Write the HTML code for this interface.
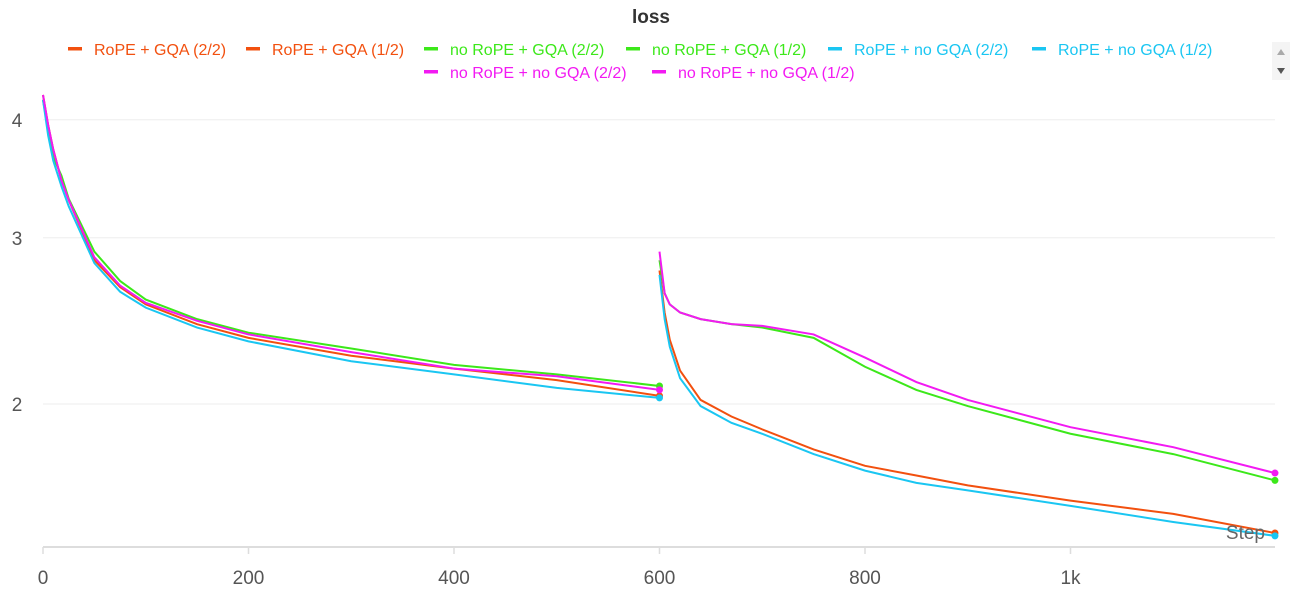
<!DOCTYPE html>
<html><head><meta charset="utf-8"><style>
body{margin:0;background:#fff;font-family:"Liberation Sans",sans-serif;}
svg text{font-family:"Liberation Sans",sans-serif;}
</style></head><body>
<svg id="chart" width="1297" height="597" xmlns="http://www.w3.org/2000/svg">
<text x="651" y="23" text-anchor="middle" font-size="19" font-weight="bold" fill="#333">loss</text>
<g id="legend"></g>
<g>
<rect x="1272" y="42" width="18" height="38" fill="#f4f4f4"/>
<path d="M1277 55 L1281 49 L1285 55 Z" fill="#aaa"/>
<path d="M1277 68 L1281 74 L1285 68 Z" fill="#555"/>
</g>
<g id="grid"></g><g id="axes"></g><g id="series"></g>
<text x="1265" y="539" text-anchor="end" font-size="19" fill="#666">Step</text>
</svg>
<script>
const xTicks=[0,200,400,600,800,1000];
const xTickLabels=["0","200","400","600","800","1k"];
const yTicks=[2,3,4];
const stepsA=[0,5,10,18,25,50,75,100,150,200,300,400,500,600];
const ropeGqaA=[4.25,3.95,3.72,3.45,3.29,2.84,2.66,2.55,2.43,2.35,2.25,2.18,2.12,2.04];
const noropeGqaA=[4.2,3.9,3.65,3.49,3.3,2.9,2.7,2.58,2.46,2.38,2.29,2.2,2.15,2.09];
const ropeNogqaA=[4.2,3.85,3.62,3.4,3.24,2.82,2.63,2.53,2.41,2.33,2.22,2.15,2.08,2.03];
const noropeNogqaA=[4.25,3.95,3.72,3.45,3.29,2.86,2.67,2.56,2.45,2.37,2.27,2.18,2.14,2.07];
const stepsB=[600,605,610,620,640,670,700,750,800,850,900,1000,1100,1199];
const ropeGqaB=[2.77,2.5,2.34,2.17,2.02,1.94,1.88,1.79,1.72,1.68,1.64,1.58,1.53,1.46];
const ropeNogqaB=[2.74,2.46,2.3,2.13,1.99,1.91,1.86,1.77,1.7,1.65,1.62,1.56,1.5,1.45];
const noropeGqaB=[2.84,2.62,2.55,2.5,2.46,2.43,2.41,2.35,2.19,2.07,1.99,1.86,1.77,1.66];
const noropeNogqaB=[2.9,2.62,2.55,2.5,2.46,2.43,2.42,2.37,2.24,2.11,2.02,1.89,1.8,1.69];
const NS="http://www.w3.org/2000/svg";
const X=s=>43+s*1.0275;
const Y=v=>404-410*(Math.log(v)-Math.log(2));
function mk(t,a,p){const e=document.createElementNS(NS,t);for(const k in a)e.setAttribute(k,a[k]);p.appendChild(e);return e;}
const grid=document.getElementById('grid'),axes=document.getElementById('axes'),ser=document.getElementById('series'),leg=document.getElementById('legend');
yTicks.forEach(v=>{const l=mk('line',{x1:43,x2:1275,y1:Y(v),y2:Y(v),stroke:'#eee'},grid);

const t=mk('text',{x:17,y:Y(v)+7,'text-anchor':'middle','font-size':19,fill:'#555'},axes);t.textContent=v;
});
const ax=mk('line',{x1:43,x2:1275,y1:547,y2:547,stroke:'#ddd','stroke-width':2},axes);

xTicks.forEach((s,i)=>{mk('line',{x1:X(s),x2:X(s),y1:547,y2:554,stroke:'#ddd','stroke-width':1.5},axes);
const t=mk('text',{x:X(s),y:584,'text-anchor':'middle','font-size':19,fill:'#555'},axes);t.textContent=xTickLabels[i];
});
const series=[
["RoPE + GQA (2/2)","#f2500f",stepsB,ropeGqaB],["RoPE + GQA (1/2)","#f2500f",stepsA,ropeGqaA],
["no RoPE + GQA (2/2)","#3ce81a",stepsB,noropeGqaB],["no RoPE + GQA (1/2)","#3ce81a",stepsA,noropeGqaA],
["RoPE + no GQA (2/2)","#1ac6f2",stepsB,ropeNogqaB],["RoPE + no GQA (1/2)","#1ac6f2",stepsA,ropeNogqaA],
["no RoPE + no GQA (2/2)","#f21af2",stepsB,noropeNogqaB],["no RoPE + no GQA (1/2)","#f21af2",stepsA,noropeNogqaA]];
series.forEach(([n,c,xs,ys])=>{
const p=mk('polyline',{points:xs.map((s,i)=>X(s)+','+Y(ys[i])).join(' '),fill:'none',stroke:c,'stroke-width':2},ser);

const last=xs.length-1;const d=mk('circle',{cx:X(xs[last]),cy:Y(ys[last]),r:3.5,fill:c},ser);
});
const legPos=[[68,49],[246,49],[424,49],[626,49],[828,49],[1032,49],[424,72],[652,72]];
series.forEach(([n,c],i)=>{const g=mk('g',{},leg);

const [x,y]=legPos[i];mk('rect',{x:x,y:y-2,width:14,height:3.5,fill:c},g);
const t=mk('text',{x:x+26,y:y+6,'font-size':16,fill:c},g);t.textContent=n;});
</script>
</body></html>
